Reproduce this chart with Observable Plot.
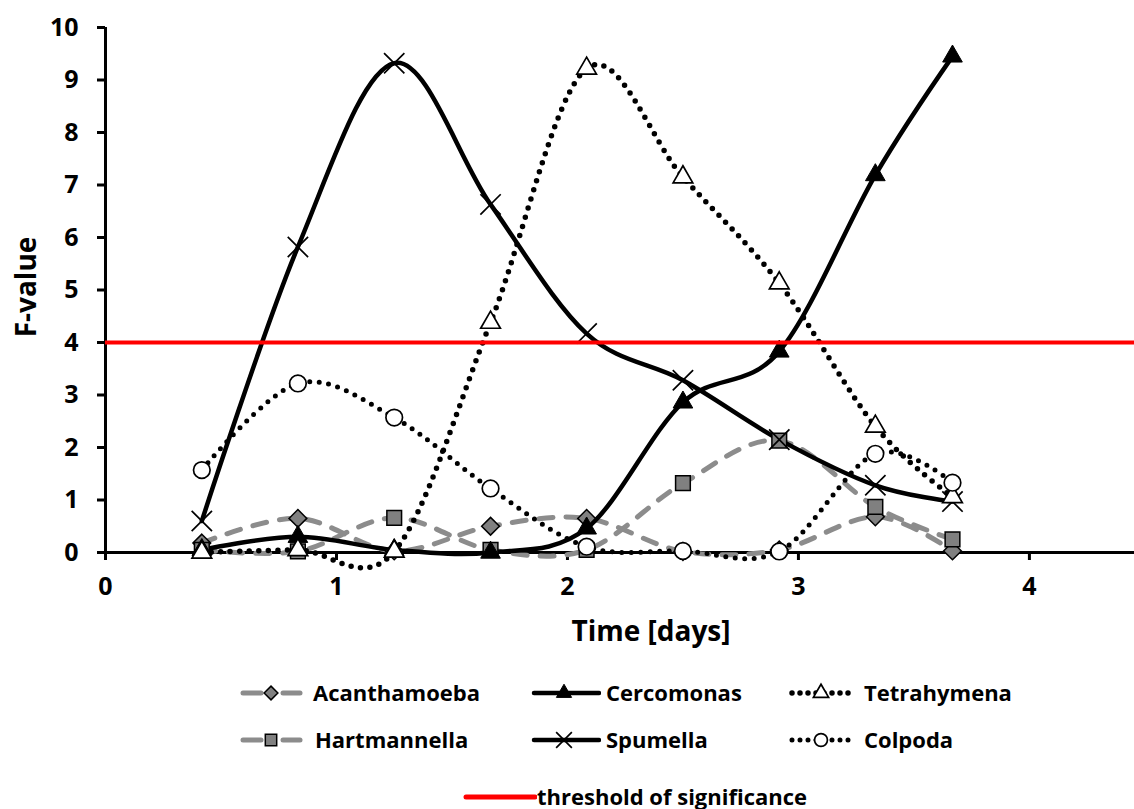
<!DOCTYPE html>
<html>
<head>
<meta charset="utf-8">
<script src="https://cdn.jsdelivr.net/npm/d3@7"></script>
<script src="https://cdn.jsdelivr.net/npm/@observablehq/plot@0.6"></script>
<style>
  body { margin: 0; background: #fff; }
  #chart { position: relative; width: 1134px; height: 809px; font-family: "Open Sans", Lato, sans-serif; font-weight: bold; }
  #chart > svg { position: absolute; left: 0; top: 0; }
  .lg-swatch { position: absolute; }
  .lg-text { position: absolute; font-size: 22px; line-height: 30px; color: #000; white-space: nowrap; }
</style>
</head>
<body>
<div id="chart"></div>
<script>
// Sampling times (days) and F-values per protist genus
const days = [0.417, 0.833, 1.25, 1.667, 2.083, 2.5, 2.917, 3.333, 3.667];
const acanthamoeba = [0.18, 0.65, 0.03, 0.50, 0.65, 0.02, 0.05, 0.68, 0.03];
const hartmannella = [0.05, 0.02, 0.66, 0.05, 0.05, 1.32, 2.13, 0.87, 0.25];
const cercomonas   = [0.05, 0.30, 0.05, 0.00, 0.46, 2.86, 3.83, 7.19, 9.45];
const spumella     = [0.60, 5.82, 9.32, 6.63, 4.17, 3.28, 2.15, 1.28, 0.97];
const tetrahymena  = [0.00, 0.05, 0.02, 4.38, 9.22, 7.15, 5.13, 2.40, 1.06];
const colpoda      = [1.57, 3.22, 2.57, 1.22, 0.11, 0.03, 0.02, 1.88, 1.33];
const threshold = 4;
const xTicks = [0, 1, 2, 3, 4];
const yTicks = [0, 1, 2, 3, 4, 5, 6, 7, 8, 9, 10];

// Visual encoding for each series
const GRAY_LINE = "#8c8c8c", GRAY_FILL = "#808080";
const dashed = {stroke: GRAY_LINE, strokeWidth: 5, strokeDasharray: "14 13", strokeLinecap: "round"};
const solid = {stroke: "#000", strokeWidth: 4.5, strokeLinecap: "round"};
const dotted = (w) => ({stroke: "#000", strokeWidth: w, strokeDasharray: "0 9.5", strokeLinecap: "round"});

const series = [
  {name: "Acanthamoeba", values: acanthamoeba, line: dashed, symbol: "diamond2", r: 8, fill: GRAY_FILL, mstroke: "#000", msw: 1.5},
  {name: "Hartmannella", values: hartmannella, line: dashed, symbol: "square", r: 8.3, fill: GRAY_FILL, mstroke: "#000", msw: 1.5},
  {name: "Cercomonas", values: cercomonas, line: solid, symbol: "triangle", r: 7.3, fill: "#000", mstroke: "#000", msw: 1},
  {name: "Spumella", values: spumella, line: solid, symbol: "times", r: 9.3, fill: "none", mstroke: "#000", msw: 1.7},
  {name: "Tetrahymena", values: tetrahymena, line: dotted(5.5), symbol: "triangle", r: 7.3, fill: "#fff", mstroke: "#000", msw: 1.7},
  {name: "Colpoda", values: colpoda, line: dotted(5), symbol: "circle", r: 8.3, fill: "#fff", mstroke: "#000", msw: 1.7}
];

const rowsOf = (s) => days.map((d, i) => ({day: d, value: s.values[i], name: s.name}));

const plot = Plot.plot({
  width: 1134,
  height: 660,
  marginLeft: 105,
  marginRight: 0,
  marginTop: 27,
  marginBottom: 108,
  x: {domain: [0, 4.455]},
  y: {domain: [0, 10]},
  style: {fontFamily: "'Open Sans', Lato, sans-serif", fontWeight: "bold", fontSize: "25px", color: "#000", background: "transparent", overflow: "visible"},
  marks: [
    Plot.axisY({ticks: yTicks, tickFormat: "d", tickSize: 8, tickPadding: 19, strokeWidth: 3, label: null, fontSize: 25}),
    Plot.axisX({ticks: xTicks, tickFormat: "d", tickSize: 8, tickPadding: 17, strokeWidth: 3, label: null, fontSize: 25}),
    Plot.ruleX([0], {y1: 0, y2: 10, stroke: "#000", strokeWidth: 3}),
    Plot.ruleY([0], {stroke: "#000", strokeWidth: 3}),
    Plot.text(["F-value"], {frameAnchor: "left", textAnchor: "middle", lineAnchor: "middle", rotate: -90, dx: -78, dy: -3, fontSize: 28, fontWeight: "bold"}),
    Plot.text(["Time [days]"], {frameAnchor: "bottom", textAnchor: "middle", lineAnchor: "middle", dy: 80, dx: 31, fontSize: 28, fontWeight: "bold"}),
    ...series.map((s) => Plot.line(rowsOf(s), {x: "day", y: "value", curve: "cardinal", ...s.line})),
    ...series.map((s) => Plot.dot(rowsOf(s), {x: "day", y: "value", symbol: s.symbol, r: s.r, fill: s.fill, stroke: s.mstroke, strokeWidth: s.msw})),
    Plot.ruleY([threshold], {stroke: "#ff0000", strokeWidth: 4})
  ]
});

const chart = document.getElementById("chart");
chart.appendChild(plot);

// Legend below the plot
const symbolTypes = {diamond2: d3.symbolDiamond2, square: d3.symbolSquare, triangle: d3.symbolTriangle, times: d3.symbolTimes, circle: d3.symbolCircle};
const legendItems = [
  {name: "Acanthamoeba", swatchX: 238, textX: 313, y: 693},
  {name: "Cercomonas", swatchX: 531, textX: 606, y: 693},
  {name: "Tetrahymena", swatchX: 788, textX: 864, y: 693},
  {name: "Hartmannella", swatchX: 238, textX: 315, y: 740},
  {name: "Spumella", swatchX: 531, textX: 606, y: 740},
  {name: "Colpoda", swatchX: 788, textX: 864, y: 740}
];

for (const item of legendItems) {
  const s = series.find((d) => d.name === item.name);
  const w = 70, h = 30, cx = 33;
  const svg = d3.select(chart).append("svg")
    .attr("class", "lg-swatch").attr("width", w).attr("height", h)
    .style("left", item.swatchX + "px").style("top", (item.y - h / 2) + "px");
  if (s.line === dashed) {
    svg.append("line").attr("x1", 5).attr("x2", 23).attr("y1", h / 2).attr("y2", h / 2)
      .attr("stroke", GRAY_LINE).attr("stroke-width", 5).attr("stroke-linecap", "round");
    svg.append("line").attr("x1", 45).attr("x2", 62).attr("y1", h / 2).attr("y2", h / 2)
      .attr("stroke", GRAY_LINE).attr("stroke-width", 5).attr("stroke-linecap", "round");
  } else if (s.line === solid) {
    svg.append("line").attr("x1", 3).attr("x2", 68).attr("y1", h / 2).attr("y2", h / 2)
      .attr("stroke", "#000").attr("stroke-width", 4.5).attr("stroke-linecap", "round");
  } else {
    svg.append("line").attr("x1", 4).attr("x2", 64).attr("y1", h / 2).attr("y2", h / 2)
      .attr("stroke", "#000").attr("stroke-width", s.line.strokeWidth)
      .attr("stroke-dasharray", "0 8").attr("stroke-linecap", "round");
  }
  const size = Math.PI * s.r * s.r * 0.6;
  svg.append("path")
    .attr("d", d3.symbol(symbolTypes[s.symbol], size)())
    .attr("transform", `translate(${cx},${h / 2})`)
    .attr("fill", s.fill).attr("stroke", s.mstroke).attr("stroke-width", s.msw);
  d3.select(chart).append("div").attr("class", "lg-text")
    .style("left", item.textX + "px").style("top", (item.y - 16) + "px").text(item.name);
}

// Threshold entry
const thr = d3.select(chart).append("svg")
  .attr("class", "lg-swatch").attr("width", 74).attr("height", 30)
  .style("left", "463px").style("top", (797 - 15) + "px");
thr.append("line").attr("x1", 3).attr("x2", 72).attr("y1", 15).attr("y2", 15)
  .attr("stroke", "#ff0000").attr("stroke-width", 5).attr("stroke-linecap", "round");
d3.select(chart).append("div").attr("class", "lg-text")
  .style("left", "537px").style("top", (797 - 16) + "px").text("threshold of significance");
</script>
</body>
</html>
